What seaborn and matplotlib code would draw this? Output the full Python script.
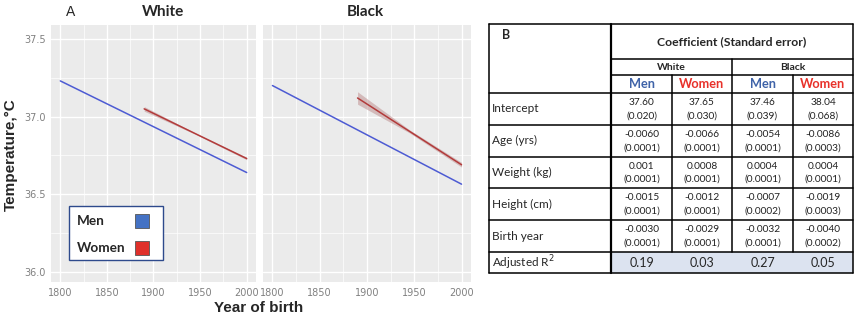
import numpy as np
import pandas as pd
import seaborn as sns
import matplotlib.pyplot as plt
from matplotlib.patches import Rectangle
from matplotlib.ticker import MultipleLocator

# ------------------ DATA ------------------
years_men = [1800, 2000]
years_women = [1890, 2000]
white_men = [37.23, 36.64]
white_women = [37.05, 36.73]
black_men = [37.20, 36.565]
black_women = [37.12, 36.69]

band_years = [1890, 1945, 2000]
white_women_band = [0.015, 0.004, 0.008]
black_women_band = [0.04, 0.01, 0.015]

row_labels = ['Intercept', 'Age (yrs)', 'Weight (kg)', 'Height (cm)', 'Birth year']
coef = [
    ['37.60', '37.65', '37.46', '38.04'],
    ['-0.0060', '-0.0066', '-0.0054', '-0.0086'],
    ['0.001', '0.0008', '0.0004', '0.0004'],
    ['-0.0015', '-0.0012', '-0.0007', '-0.0019'],
    ['-0.0030', '-0.0029', '-0.0032', '-0.0040'],
]
stderr = [
    ['(0.020)', '(0.030)', '(0.039)', '(0.068)'],
    ['(0.0001)', '(0.0001)', '(0.0001)', '(0.0003)'],
    ['(0.0001)', '(0.0001)', '(0.0001)', '(0.0001)'],
    ['(0.0001)', '(0.0001)', '(0.0002)', '(0.0003)'],
    ['(0.0001)', '(0.0001)', '(0.0001)', '(0.0002)'],
]
adj_r2 = ['0.19', '0.03', '0.27', '0.05']
races = ['White', 'Black']
sexes = ['Men', 'Women']

# ------------------ LONG TABLE ------------------
frames = []
for race, men, women in [('White', white_men, white_women), ('Black', black_men, black_women)]:
    frames.append(pd.DataFrame({'Year': years_men, 'Temp': men, 'Sex': 'Men', 'Race': race}))
    frames.append(pd.DataFrame({'Year': years_women, 'Temp': women, 'Sex': 'Women', 'Race': race}))
df = pd.concat(frames, ignore_index=True)

palette = {'Men': '#4D5BD3', 'Women': '#B23B3B'}
MEN_C = '#3F63A8'
WOMEN_C = '#E8312A'

sns.set_theme(style='darkgrid', rc={
    'axes.facecolor': '#EBEBEB',
    'grid.color': 'white',
})

fig = plt.figure(figsize=(8.55, 3.2), dpi=100)
W, H = 855, 320


def px_axes(x0, y0, x1, y1):
    return fig.add_axes([x0 / W, 1 - y1 / H, (x1 - x0) / W, (y1 - y0) / H])


ax1 = px_axes(51, 25, 256, 282)
ax2 = px_axes(263, 25, 471, 282)

for ax, race, band in [(ax1, 'White', white_women_band), (ax2, 'Black', black_women_band)]:
    sub = df[df['Race'] == race]
    # ribbon around the women's fit
    w = sub[sub['Sex'] == 'Women']
    fit = np.interp(band_years, w['Year'], w['Temp'])
    ax.fill_between(band_years, fit - np.array(band), fit + np.array(band),
                    color='#C49A9A', alpha=0.6, lw=0, zorder=2)
    sns.lineplot(data=sub, x='Year', y='Temp', hue='Sex', palette=palette,
                 lw=1.1, legend=False, ax=ax, zorder=3)
    ax.set_xlim(1790, 2010)
    ax.set_ylim(35.935, 37.59)
    ax.xaxis.set_major_locator(MultipleLocator(50))
    ax.xaxis.set_minor_locator(MultipleLocator(25))
    ax.yaxis.set_major_locator(MultipleLocator(0.5))
    ax.yaxis.set_minor_locator(MultipleLocator(0.25))
    ax.grid(which='major', color='white', lw=1.0)
    ax.grid(which='minor', color='white', lw=0.5)
    ax.tick_params(axis='both', which='major', labelsize=7, labelcolor='#808080',
                   length=2, width=0.6, color='#808080', pad=2)
    ax.tick_params(which='minor', length=0)
    ax.yaxis.set_major_formatter(lambda v, _: f'{v:.1f}')
    ax.set_xlabel('')
    ax.set_ylabel('')
    for s in ax.spines.values():
        s.set_visible(False)

ax2.set_yticklabels([])
ax2.tick_params(axis='y', length=0)

fig.text(142 / W, 1 - 12 / H, 'White', fontsize=11, fontweight='bold', family='Lato', va='center')
fig.text(365 / W, 1 - 12 / H, 'Black', fontsize=11, fontweight='bold', family='Lato', va='center', ha='center')
fig.text(66 / W, 1 - 12 / H, 'A', fontsize=10, family='Liberation Sans', va='center')
fig.text(11 / W, 1 - 155 / H, 'Temperature,°C', fontsize=11, fontweight='bold',
         family='Liberation Sans', rotation=90, va='center', ha='center')
fig.text(259 / W, 1 - 308 / H, 'Year of birth', fontsize=11, fontweight='bold',
         family='Liberation Sans', va='center', ha='center')

# legend box
lax = px_axes(0, 0, W, H)
lax.set_xlim(0, W)
lax.set_ylim(H, 0)
lax.axis('off')
lax.add_patch(Rectangle((69, 206), 94, 54, facecolor='white', edgecolor='#2E4A8C', lw=1.0))
for i, (name, col) in enumerate([('Men', '#4472C4'), ('Women', '#E0302A')]):
    yc = 221 + i * 27
    lax.text(77, yc, name, fontsize=9.8, fontweight='bold', family='Lato', va='center')
    lax.add_patch(Rectangle((135, yc - 7), 14, 14, facecolor=col, edgecolor='#555555', lw=0.6))

# ------------------ TABLE ------------------
x_left, x_lab = 489, 611
col_edges = [611, 672, 732, 793, 853]
row_edges = [92.7, 125, 156.7, 188.3, 220.3, 252, 272.7]
top, y_coef, y_race = 24, 59.3, 74.7

# shaded R2 row
lax.add_patch(Rectangle((x_lab, row_edges[-2]), col_edges[-1] - x_lab,
                        row_edges[-1] - row_edges[-2], facecolor='#DCE3F0', lw=0))

lw_t = 1.1
lax.plot([x_left, col_edges[-1]], [top, top], color='black', lw=lw_t)
for y in row_edges:
    lax.plot([x_left, col_edges[-1]], [y, y], color='black', lw=lw_t)
lax.plot([x_lab, col_edges[-1]], [y_coef, y_coef], color='black', lw=lw_t)
lax.plot([x_lab, col_edges[-1]], [y_race, y_race], color='black', lw=lw_t)
lax.plot([x_left, x_left], [top, row_edges[-1]], color='black', lw=lw_t)
lax.plot([x_lab, x_lab], [top, row_edges[-1]], color='black', lw=1.6)
lax.plot([col_edges[-1], col_edges[-1]], [top, row_edges[-1]], color='black', lw=lw_t)
lax.plot([col_edges[2], col_edges[2]], [y_coef, row_edges[-2]], color='black', lw=lw_t)
for x in [col_edges[1], col_edges[3]]:
    lax.plot([x, x], [y_race, row_edges[-2]], color='black', lw=lw_t)

tf = 'Lato'
lax.text(502, 35, 'B', fontsize=9, fontweight='bold', family=tf, va='center')
lax.text((x_lab + col_edges[-1]) / 2, (top + y_coef) / 2, 'Coefficient (Standard error)',
         fontsize=8.8, fontweight='bold', family=tf, ha='center', va='center')
for i, race in enumerate(races):
    xc = (col_edges[2 * i] + col_edges[2 * i + 2]) / 2
    lax.text(xc, (y_coef + y_race) / 2, race, fontsize=7.5, fontweight='bold',
             family=tf, ha='center', va='center')
for j in range(4):
    xc = (col_edges[j] + col_edges[j + 1]) / 2
    sex = sexes[j % 2]
    lax.text(xc, (y_race + row_edges[0]) / 2 + 0.5, sex, fontsize=9.2, fontweight='bold',
             family=tf, ha='center', va='center', color=MEN_C if sex == 'Men' else WOMEN_C)

for r, label in enumerate(row_labels):
    y0, y1 = row_edges[r], row_edges[r + 1]
    lax.text(x_left + 3, (y0 + y1) / 2, label, fontsize=8.5, family=tf, va='center')
    for j in range(4):
        xc = (col_edges[j] + col_edges[j + 1]) / 2
        lax.text(xc, y0 + (y1 - y0) * 0.3, coef[r][j], fontsize=7.3, family=tf,
                 ha='center', va='center', color='#222222')
        lax.text(xc, y0 + (y1 - y0) * 0.72, stderr[r][j], fontsize=7.3, family=tf,
                 ha='center', va='center', color='#222222')

y0, y1 = row_edges[-2], row_edges[-1]
lax.text(x_left + 3, (y0 + y1) / 2, 'Adjusted R$^2$', fontsize=8.5, family=tf, va='center')
for j in range(4):
    xc = (col_edges[j] + col_edges[j + 1]) / 2
    lax.text(xc, (y0 + y1) / 2 + 0.5, adj_r2[j], fontsize=9, family=tf,
             ha='center', va='center')

fig.savefig('out.png', dpi=100)
